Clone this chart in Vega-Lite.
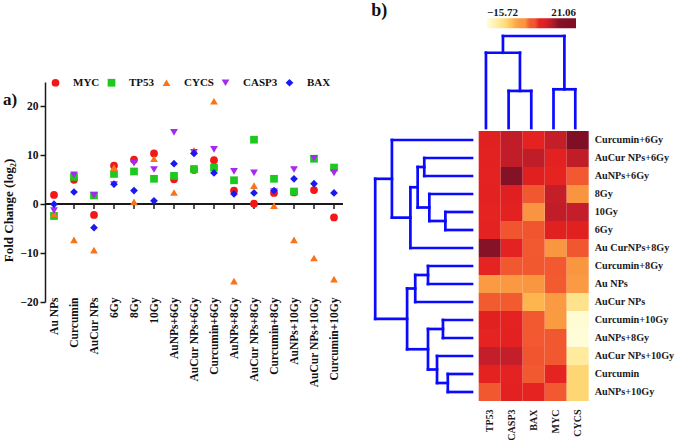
{
  "$schema": "https://vega.github.io/schema/vega-lite/v6.json",
  "background": "white",
  "padding": {"left": 2, "top": 1, "right": 0, "bottom": 0},
  "datasets": {
    "fold": [
      {"treatment": "Au NPs", "label": "Au NPs", "gene": "MYC", "value": 1.9},
      {"treatment": "Curcumin", "label": "Curcumin", "gene": "MYC", "value": 5.0},
      {"treatment": "AuCur NPs", "label": "AuCur NPs", "gene": "MYC", "value": -2.2},
      {"treatment": "6Gy", "label": "6Gy", "gene": "MYC", "value": 7.9},
      {"treatment": "8Gy", "label": "8Gy", "gene": "MYC", "value": 9.1},
      {"treatment": "10Gy", "label": "10Gy", "gene": "MYC", "value": 10.4},
      {"treatment": "AuNPs+6Gy", "label": "AuNPs+6Gy", "gene": "MYC", "value": 5.1},
      {"treatment": "AuCur NPs+6Gy", "label": "AuCur NPs+6Gy", "gene": "MYC", "value": 7.0},
      {"treatment": "Curcumin+6Gy", "label": "Curcumin+6Gy", "gene": "MYC", "value": 9.0},
      {"treatment": "AuNPs+8Gy", "label": "AuNPs+8Gy", "gene": "MYC", "value": 2.8},
      {"treatment": "AuCur NPs+8Gy", "label": "Au CurNPs+8Gy", "gene": "MYC", "value": 0.1},
      {"treatment": "Curcumin+8Gy", "label": "Curcumin+8Gy", "gene": "MYC", "value": 2.3},
      {"treatment": "AuNPs+10Gy", "label": "AuNPs+10Gy", "gene": "MYC", "value": 2.4},
      {"treatment": "AuCur NPs+10Gy", "label": "AuCur NPs+10Gy", "gene": "MYC", "value": 2.9},
      {"treatment": "Curcumin+10Gy", "label": "Curcumin+10Gy", "gene": "MYC", "value": -2.7},

      {"treatment": "Au NPs", "label": "Au NPs", "gene": "TP53", "value": -2.4},
      {"treatment": "Curcumin", "label": "Curcumin", "gene": "TP53", "value": 5.6},
      {"treatment": "AuCur NPs", "label": "AuCur NPs", "gene": "TP53", "value": 1.8},
      {"treatment": "6Gy", "label": "6Gy", "gene": "TP53", "value": 6.2},
      {"treatment": "8Gy", "label": "8Gy", "gene": "TP53", "value": 6.7},
      {"treatment": "10Gy", "label": "10Gy", "gene": "TP53", "value": 5.2},
      {"treatment": "AuNPs+6Gy", "label": "AuNPs+6Gy", "gene": "TP53", "value": 5.8},
      {"treatment": "AuCur NPs+6Gy", "label": "AuCur NPs+6Gy", "gene": "TP53", "value": 7.2},
      {"treatment": "Curcumin+6Gy", "label": "Curcumin+6Gy", "gene": "TP53", "value": 7.5},
      {"treatment": "AuNPs+8Gy", "label": "AuNPs+8Gy", "gene": "TP53", "value": 4.9},
      {"treatment": "AuCur NPs+8Gy", "label": "Au CurNPs+8Gy", "gene": "TP53", "value": 13.2},
      {"treatment": "Curcumin+8Gy", "label": "Curcumin+8Gy", "gene": "TP53", "value": 5.2},
      {"treatment": "AuNPs+10Gy", "label": "AuNPs+10Gy", "gene": "TP53", "value": 2.6},
      {"treatment": "AuCur NPs+10Gy", "label": "AuCur NPs+10Gy", "gene": "TP53", "value": 9.3},
      {"treatment": "Curcumin+10Gy", "label": "Curcumin+10Gy", "gene": "TP53", "value": 7.5},

      {"treatment": "Au NPs", "label": "Au NPs", "gene": "CYCS", "value": -2.0},
      {"treatment": "Curcumin", "label": "Curcumin", "gene": "CYCS", "value": -7.3},
      {"treatment": "AuCur NPs", "label": "AuCur NPs", "gene": "CYCS", "value": -9.4},
      {"treatment": "6Gy", "label": "6Gy", "gene": "CYCS", "value": 7.5},
      {"treatment": "8Gy", "label": "8Gy", "gene": "CYCS", "value": 0.5},
      {"treatment": "10Gy", "label": "10Gy", "gene": "CYCS", "value": 9.3},
      {"treatment": "AuNPs+6Gy", "label": "AuNPs+6Gy", "gene": "CYCS", "value": 2.4},
      {"treatment": "AuCur NPs+6Gy", "label": "AuCur NPs+6Gy", "gene": "CYCS", "value": 11.0},
      {"treatment": "Curcumin+6Gy", "label": "Curcumin+6Gy", "gene": "CYCS", "value": 21.06},
      {"treatment": "AuNPs+8Gy", "label": "AuNPs+8Gy", "gene": "CYCS", "value": -15.72},
      {"treatment": "AuCur NPs+8Gy", "label": "Au CurNPs+8Gy", "gene": "CYCS", "value": 3.8},
      {"treatment": "Curcumin+8Gy", "label": "Curcumin+8Gy", "gene": "CYCS", "value": -0.3},
      {"treatment": "AuNPs+10Gy", "label": "AuNPs+10Gy", "gene": "CYCS", "value": -7.3},
      {"treatment": "AuCur NPs+10Gy", "label": "AuCur NPs+10Gy", "gene": "CYCS", "value": -11.0},
      {"treatment": "Curcumin+10Gy", "label": "Curcumin+10Gy", "gene": "CYCS", "value": -15.3},

      {"treatment": "Au NPs", "label": "Au NPs", "gene": "CASP3", "value": -1.3},
      {"treatment": "Curcumin", "label": "Curcumin", "gene": "CASP3", "value": 6.0},
      {"treatment": "AuCur NPs", "label": "AuCur NPs", "gene": "CASP3", "value": 1.8},
      {"treatment": "6Gy", "label": "6Gy", "gene": "CASP3", "value": 4.0},
      {"treatment": "8Gy", "label": "8Gy", "gene": "CASP3", "value": 8.4},
      {"treatment": "10Gy", "label": "10Gy", "gene": "CASP3", "value": 7.1},
      {"treatment": "AuNPs+6Gy", "label": "AuNPs+6Gy", "gene": "CASP3", "value": 14.7},
      {"treatment": "AuCur NPs+6Gy", "label": "AuCur NPs+6Gy", "gene": "CASP3", "value": 10.6},
      {"treatment": "Curcumin+6Gy", "label": "Curcumin+6Gy", "gene": "CASP3", "value": 11.2},
      {"treatment": "AuNPs+8Gy", "label": "AuNPs+8Gy", "gene": "CASP3", "value": 6.7},
      {"treatment": "AuCur NPs+8Gy", "label": "Au CurNPs+8Gy", "gene": "CASP3", "value": 6.4},
      {"treatment": "Curcumin+8Gy", "label": "Curcumin+8Gy", "gene": "CASP3", "value": 2.6},
      {"treatment": "AuNPs+10Gy", "label": "AuNPs+10Gy", "gene": "CASP3", "value": 7.1},
      {"treatment": "AuCur NPs+10Gy", "label": "AuCur NPs+10Gy", "gene": "CASP3", "value": 9.4},
      {"treatment": "Curcumin+10Gy", "label": "Curcumin+10Gy", "gene": "CASP3", "value": 6.4},

      {"treatment": "Au NPs", "label": "Au NPs", "gene": "BAX", "value": 0.0},
      {"treatment": "Curcumin", "label": "Curcumin", "gene": "BAX", "value": 2.5},
      {"treatment": "AuCur NPs", "label": "AuCur NPs", "gene": "BAX", "value": -4.8},
      {"treatment": "6Gy", "label": "6Gy", "gene": "BAX", "value": 4.1},
      {"treatment": "8Gy", "label": "8Gy", "gene": "BAX", "value": 2.8},
      {"treatment": "10Gy", "label": "10Gy", "gene": "BAX", "value": 0.7},
      {"treatment": "AuNPs+6Gy", "label": "AuNPs+6Gy", "gene": "BAX", "value": 8.3},
      {"treatment": "AuCur NPs+6Gy", "label": "AuCur NPs+6Gy", "gene": "BAX", "value": 10.4},
      {"treatment": "Curcumin+6Gy", "label": "Curcumin+6Gy", "gene": "BAX", "value": 6.4},
      {"treatment": "AuNPs+8Gy", "label": "AuNPs+8Gy", "gene": "BAX", "value": 2.1},
      {"treatment": "AuCur NPs+8Gy", "label": "Au CurNPs+8Gy", "gene": "BAX", "value": 2.3},
      {"treatment": "Curcumin+8Gy", "label": "Curcumin+8Gy", "gene": "BAX", "value": 2.8},
      {"treatment": "AuNPs+10Gy", "label": "AuNPs+10Gy", "gene": "BAX", "value": 5.2},
      {"treatment": "AuCur NPs+10Gy", "label": "AuCur NPs+10Gy", "gene": "BAX", "value": 4.2},
      {"treatment": "Curcumin+10Gy", "label": "Curcumin+10Gy", "gene": "BAX", "value": 2.3}
    ],
    "rowTree": [
      {"h1": 0, "h2": 3.64, "p1": 0.5, "p2": 0.5},
      {"h1": 0, "h2": 2.17, "p1": 1.5, "p2": 1.5},
      {"h1": 0, "h2": 2.17, "p1": 2.5, "p2": 2.5},
      {"h1": 0, "h2": 1.94, "p1": 3.5, "p2": 3.5},
      {"h1": 0, "h2": 1.21, "p1": 4.5, "p2": 4.5},
      {"h1": 0, "h2": 1.21, "p1": 5.5, "p2": 5.5},
      {"h1": 0, "h2": 2.8, "p1": 6.5, "p2": 6.5},
      {"h1": 0, "h2": 2.0, "p1": 7.5, "p2": 7.5},
      {"h1": 0, "h2": 2.0, "p1": 8.5, "p2": 8.5},
      {"h1": 0, "h2": 2.58, "p1": 9.5, "p2": 9.5},
      {"h1": 0, "h2": 1.32, "p1": 10.5, "p2": 10.5},
      {"h1": 0, "h2": 1.32, "p1": 11.5, "p2": 11.5},
      {"h1": 0, "h2": 1.59, "p1": 12.5, "p2": 12.5},
      {"h1": 0, "h2": 1.1, "p1": 13.5, "p2": 13.5},
      {"h1": 0, "h2": 1.1, "p1": 14.5, "p2": 14.5},
      {"h1": 1.21, "h2": 1.21, "p1": 4.5, "p2": 5.5},
      {"h1": 1.94, "h2": 1.94, "p1": 3.5, "p2": 5.0},
      {"h1": 1.21, "h2": 1.94, "p1": 5.0, "p2": 5.0},
      {"h1": 2.17, "h2": 2.17, "p1": 1.5, "p2": 2.5},
      {"h1": 2.47, "h2": 2.47, "p1": 2.0, "p2": 4.25},
      {"h1": 2.17, "h2": 2.47, "p1": 2.0, "p2": 2.0},
      {"h1": 1.94, "h2": 2.47, "p1": 4.25, "p2": 4.25},
      {"h1": 2.8, "h2": 2.8, "p1": 3.125, "p2": 6.5},
      {"h1": 2.47, "h2": 2.8, "p1": 3.125, "p2": 3.125},
      {"h1": 3.64, "h2": 3.64, "p1": 0.5, "p2": 4.8125},
      {"h1": 2.8, "h2": 3.64, "p1": 4.8125, "p2": 4.8125},
      {"h1": 2.0, "h2": 2.0, "p1": 7.5, "p2": 8.5},
      {"h1": 2.58, "h2": 2.58, "p1": 8.0, "p2": 9.5},
      {"h1": 2.0, "h2": 2.58, "p1": 8.0, "p2": 8.0},
      {"h1": 1.32, "h2": 1.32, "p1": 10.5, "p2": 11.5},
      {"h1": 1.1, "h2": 1.1, "p1": 13.5, "p2": 14.5},
      {"h1": 1.59, "h2": 1.59, "p1": 12.5, "p2": 14.0},
      {"h1": 1.1, "h2": 1.59, "p1": 14.0, "p2": 14.0},
      {"h1": 2.0, "h2": 2.0, "p1": 11.0, "p2": 13.25},
      {"h1": 1.32, "h2": 2.0, "p1": 11.0, "p2": 11.0},
      {"h1": 1.59, "h2": 2.0, "p1": 13.25, "p2": 13.25},
      {"h1": 2.95, "h2": 2.95, "p1": 8.75, "p2": 12.125},
      {"h1": 2.58, "h2": 2.95, "p1": 8.75, "p2": 8.75},
      {"h1": 2.0, "h2": 2.95, "p1": 12.125, "p2": 12.125},
      {"h1": 4.4, "h2": 4.4, "p1": 2.65625, "p2": 10.4375},
      {"h1": 3.64, "h2": 4.4, "p1": 2.65625, "p2": 2.65625},
      {"h1": 2.95, "h2": 4.4, "p1": 10.4375, "p2": 10.4375}
    ],
    "colTree": [
      {"p1": 0.33, "p2": 0.33, "h1": 0, "h2": 4.18},
      {"p1": 1.36, "p2": 1.36, "h1": 0, "h2": 2.06},
      {"p1": 2.39, "p2": 2.39, "h1": 0, "h2": 2.06},
      {"p1": 3.4, "p2": 3.4, "h1": 0, "h2": 2.15},
      {"p1": 4.39, "p2": 4.39, "h1": 0, "h2": 2.15},
      {"p1": 1.36, "p2": 2.39, "h1": 2.06, "h2": 2.06},
      {"p1": 3.4, "p2": 4.39, "h1": 2.15, "h2": 2.15},
      {"p1": 1.875, "p2": 1.875, "h1": 2.06, "h2": 4.18},
      {"p1": 0.33, "p2": 1.875, "h1": 4.18, "h2": 4.18},
      {"p1": 1.1025, "p2": 1.1025, "h1": 4.18, "h2": 5.11},
      {"p1": 3.895, "p2": 3.895, "h1": 2.15, "h2": 5.11},
      {"p1": 1.1025, "p2": 3.895, "h1": 5.11, "h2": 5.11}
    ]
  },
  "data": {"name": "fold"},
  "spacing": 135.7,
  "bounds": "flush",
  "resolve": {"scale": {"color": "independent", "shape": "independent"}, "legend": {"color": "independent", "shape": "independent"}},
  "hconcat": [
    {
      "width": 298,
      "height": 220,
      "title": {"text": "a)", "anchor": "start", "frame": "bounds", "fontSize": 17, "font": "Liberation Serif, Times New Roman, serif", "fontWeight": "bold", "color": "#111111", "dx": 0, "dy": 31.5, "offset": 0},
      "layer": [
        {
          "mark": {"type": "rule", "color": "#1a1a1a", "strokeWidth": 1.5},
          "encoding": {"y": {"datum": 0, "type": "quantitative", "scale": {"domain": [-20, 25], "nice": false, "zero": false}}}
        },
        {
          "transform": [{"filter": "datum.gene === 'MYC'"}],
          "mark": {"type": "rule", "color": "#1a1a1a", "strokeWidth": 1.5},
          "encoding": {
            "x": {"field": "treatment", "type": "nominal", "sort": ["Au NPs","Curcumin","AuCur NPs","6Gy","8Gy","10Gy","AuNPs+6Gy","AuCur NPs+6Gy","Curcumin+6Gy","AuNPs+8Gy","AuCur NPs+8Gy","Curcumin+8Gy","AuNPs+10Gy","AuCur NPs+10Gy","Curcumin+10Gy"],
                  "scale": {"type": "point", "padding": 0.45},
                  "axis": {"title": null, "domain": false, "ticks": false, "grid": false, "labelAngle": -90, "labelPadding": -5, "labelOverlap": false, "labelFont": "Liberation Serif, Times New Roman, serif", "labelFontWeight": "bold", "labelFontSize": 11.5, "labelColor": "#111111"}},
            "y": {"datum": 0, "type": "quantitative"},
            "y2": {"datum": -1.0}
          }
        },
        {
          "mark": {"type": "point", "filled": true, "opacity": 1, "size": 60, "strokeWidth": 0},
          "encoding": {
            "x": {"field": "treatment", "type": "nominal", "sort": ["Au NPs","Curcumin","AuCur NPs","6Gy","8Gy","10Gy","AuNPs+6Gy","AuCur NPs+6Gy","Curcumin+6Gy","AuNPs+8Gy","AuCur NPs+8Gy","Curcumin+8Gy","AuNPs+10Gy","AuCur NPs+10Gy","Curcumin+10Gy"],
                  "scale": {"type": "point", "padding": 0.45},
                  "axis": {"title": null, "domain": false, "ticks": false, "grid": false, "labelAngle": -90, "labelPadding": -5, "labelOverlap": false, "labelFont": "Liberation Serif, Times New Roman, serif", "labelFontWeight": "bold", "labelFontSize": 11.5, "labelColor": "#111111"}},
            "y": {"field": "value", "type": "quantitative",
                  "scale": {"domain": [-20, 25], "nice": false, "zero": false},
                  "axis": {"title": "Fold Change (log₂)", "values": [-20, -15, -10, -5, 0, 5, 10, 15, 20, 25], "grid": false,
                           "domainColor": "#1a1a1a", "domainWidth": 1.5, "tickColor": "#1a1a1a", "tickWidth": 1.5, "tickSize": 5,
                           "labelPadding": 2, "labelFont": "Liberation Serif, Times New Roman, serif", "labelFontWeight": "bold", "labelFontSize": 11.5, "labelColor": "#111111",
                           "titleFont": "Liberation Serif, Times New Roman, serif", "titleFontWeight": "bold", "titleFontSize": 13, "titleColor": "#111111", "titlePadding": 4, "titleY": 128}},
            "color": {"field": "gene", "type": "nominal",
                      "scale": {"domain": ["MYC", "TP53", "CYCS", "CASP3", "BAX"], "range": ["#f21818", "#1fc81f", "#f7741a", "#a52af0", "#1a1af0"]},
                      "legend": {"title": null, "orient": "none", "legendX": 5, "legendY": -5, "direction": "horizontal", "columns": 5,
                                 "symbolSize": 60, "symbolStrokeWidth": 0, "labelOffset": 12, "columnPadding": 6, "padding": 0,
                                 "labelFont": "Liberation Serif, Times New Roman, serif", "labelFontWeight": "bold", "labelFontSize": 11, "labelColor": "#111111"}},
            "shape": {"field": "gene", "type": "nominal",
                      "scale": {"domain": ["MYC", "TP53", "CYCS", "CASP3", "BAX"], "range": ["circle", "square", "triangle-up", "triangle-down", "diamond"]},
                      "legend": {"title": null, "orient": "none", "legendX": 5, "legendY": -5, "direction": "horizontal", "columns": 5,
                                 "symbolSize": 60, "symbolStrokeWidth": 0, "labelOffset": 12, "columnPadding": 6, "padding": 0,
                                 "labelFont": "Liberation Serif, Times New Roman, serif", "labelFontWeight": "bold", "labelFontSize": 11, "labelColor": "#111111"}}
          }
        }
      ]
    },
    {
      "width": 110,
      "height": 319,
      "title": {"text": "b)", "anchor": "start", "frame": "bounds", "fontSize": 18, "font": "Liberation Serif, Times New Roman, serif", "fontWeight": "bold", "color": "#111111", "dx": -2, "dy": 1.5, "offset": 0},
      "resolve": {"scale": {"x": "independent", "y": "independent"}},
      "layer": [
        {
          "mark": {"type": "rect"},
          "encoding": {
            "x": {"field": "gene", "type": "nominal", "sort": ["TP53", "CASP3", "BAX", "MYC", "CYCS"],
                  "scale": {"paddingInner": 0, "paddingOuter": 0},
                  "axis": {"title": null, "domain": false, "ticks": false, "grid": false, "labelAngle": -90, "labelPadding": 8,
                           "labelFont": "Liberation Serif, Times New Roman, serif", "labelFontWeight": "bold", "labelFontSize": 10, "labelColor": "#1a1a1a"}},
            "y": {"field": "label", "type": "nominal",
                  "sort": ["Curcumin+6Gy", "AuCur NPs+6Gy", "AuNPs+6Gy", "8Gy", "10Gy", "6Gy", "Au CurNPs+8Gy", "Curcumin+8Gy", "Au NPs", "AuCur NPs", "Curcumin+10Gy", "AuNPs+8Gy", "AuCur NPs+10Gy", "Curcumin", "AuNPs+10Gy"],
                  "scale": {"paddingInner": 0, "paddingOuter": 0, "range": [49, 319]},
                  "axis": {"orient": "right", "title": null, "domain": false, "ticks": false, "grid": false, "labelPadding": 5.5,
                           "labelFont": "Liberation Serif, Times New Roman, serif", "labelFontWeight": "bold", "labelFontSize": 10.2, "labelColor": "#1a1a1a"}},
            "color": {"field": "value", "type": "quantitative",
                      "scale": {"domain": [-15.72, -15.0, -11.0, -9.4, -7.3, -4.8, -2.7, 0.7, 1.8, 4.2, 4.9, 8.4, 9.0, 11.2, 13.2, 21.06],
                                "range": ["#fffdd8", "#fffbd0", "#feeb9e", "#fee38c", "#fed673", "#feb54d", "#fa9b42", "#f99540", "#f25a30", "#f05530", "#e52421", "#e01f20", "#c41e29", "#c01d29", "#861227", "#7f0f24"],
                                "interpolate": "rgb"},
                      "legend": {"title": null, "orient": "none", "legendX": 8.3, "legendY": -63.7, "direction": "horizontal",
                                 "gradientLength": 89, "gradientThickness": 10, "gradientStrokeWidth": 0, "padding": 0,
                                 "values": [-15.72, 21.06], "format": ".2f", "labelOffset": -21,
                                 "labelFont": "Liberation Serif, Times New Roman, serif", "labelFontWeight": "bold", "labelFontSize": 11, "labelColor": "#1a1a1a"}}
          }
        },
        {
          "data": {"name": "rowTree"},
          "mark": {"type": "rule", "color": "#0a0aff", "strokeWidth": 2.7, "strokeCap": "square"},
          "encoding": {
            "x": {"field": "h1", "type": "quantitative", "scale": {"domain": [-5.3045, -0.3045], "reverse": true, "nice": false, "zero": false}, "axis": null},
            "x2": {"field": "h2"},
            "y": {"field": "p1", "type": "quantitative", "scale": {"domain": [-2.7222, 15], "reverse": true, "nice": false, "zero": false}, "axis": null},
            "y2": {"field": "p2"}
          }
        },
        {
          "data": {"name": "colTree"},
          "mark": {"type": "rule", "color": "#0a0aff", "strokeWidth": 2.7, "strokeCap": "square"},
          "encoding": {
            "x": {"field": "p1", "type": "quantitative", "scale": {"domain": [0, 5], "nice": false, "zero": false}, "axis": null},
            "x2": {"field": "p2"},
            "y": {"field": "h1", "type": "quantitative", "scale": {"domain": [-15.1667, 2.5556], "nice": false, "zero": false}, "axis": null},
            "y2": {"field": "h2"}
          }
        }
      ]
    }
  ],
  "config": {"view": {"stroke": null}, "font": "Liberation Serif, Times New Roman, serif"}
}
